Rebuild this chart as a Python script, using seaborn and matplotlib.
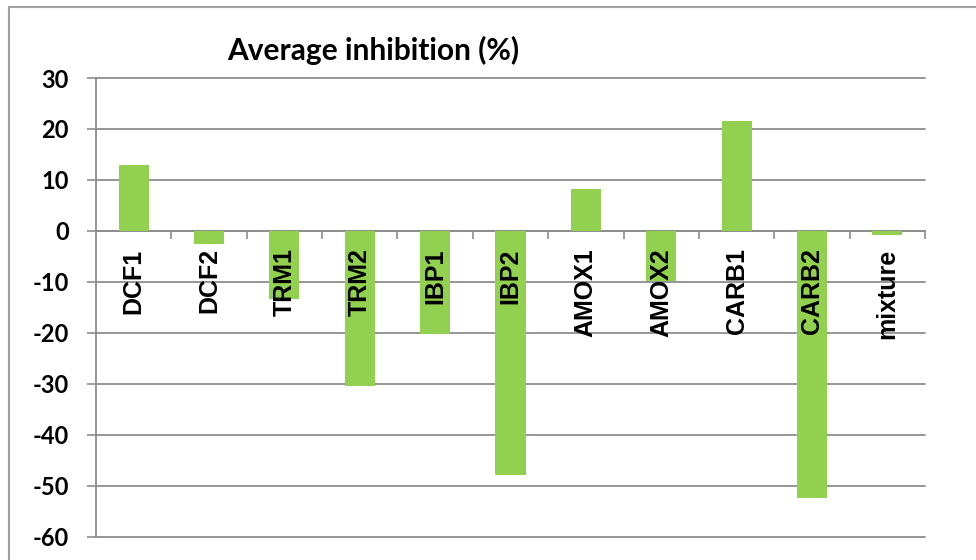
import matplotlib
matplotlib.use("Agg")
import matplotlib.pyplot as plt
import seaborn as sns
import pandas as pd
from matplotlib.lines import Line2D

# Average inhibition per sample (%)
categories = ["DCF1", "DCF2", "TRM1", "TRM2", "IBP1", "IBP2",
              "AMOX1", "AMOX2", "CARB1", "CARB2", "mixture"]
inhibition = [13.0, -2.5, -13.4, -30.5, -20.3, -47.8,
              8.3, -9.9, 21.5, -52.4, -0.9]
y_ticks = [-60, -50, -40, -30, -20, -10, 0, 10, 20, 30]
title = "Average inhibition (%)"

sns.set_theme(style="white")
plt.rcParams["axes.unicode_minus"] = False

W, H = 976, 560
fig = plt.figure(figsize=(W / 100, H / 100), dpi=100)
fig.patch.set_facecolor("white")

left, right, top, bottom = 96, 925, 78, 536.7
ax = fig.add_axes([left / W, (H - bottom) / H, (right - left) / W, (bottom - top) / H])

df = pd.DataFrame({"sample": categories, "inhibition": inhibition})
sns.barplot(data=df, x="sample", y="inhibition", color="#92D050",
            saturation=1, width=0.4, linewidth=0, ax=ax)

grey = "#8e8e8e"
ax.set_xlim(-0.5, len(categories) - 0.5)
ax.set_ylim(-60, 30)
ax.set_yticks(y_ticks)
ax.yaxis.grid(True, color=grey, linewidth=1.3)
for gl in ax.get_ygridlines():
    gl.set_clip_on(False)
ax.set_xlabel("")
ax.set_ylabel("")

# Category axis crosses at zero
for s in ["top", "right"]:
    ax.spines[s].set_visible(False)
ax.spines["bottom"].set_position(("data", 0))
ax.spines["bottom"].set_color(grey)
ax.spines["bottom"].set_linewidth(1.3)
ax.spines["left"].set_color(grey)
ax.spines["left"].set_linewidth(1.3)

ax.yaxis.set_zorder(0.5)
ax.xaxis.set_zorder(3)
ax.spines["bottom"].set_zorder(0.6)

ax.tick_params(axis="y", which="major", left=True, length=6.5, width=1.2,
               color=grey, pad=13)
for lab in ax.get_yticklabels():
    lab.set_fontfamily("Lato")
    lab.set_fontweight("bold")
    lab.set_fontsize(17)
    lab.set_color("black")

ax.set_xticks(range(len(categories)))
ax.set_xticklabels(categories, rotation=90, fontfamily="Liberation Sans",
                   fontweight="bold", fontsize=18, color="black")
ax.set_xticks([i + 0.5 for i in range(len(categories))], minor=True)
ax.tick_params(axis="x", which="major", bottom=True, length=0, pad=12.5)
ax.tick_params(axis="x", which="minor", bottom=True, length=5.8, width=1.2,
               color=grey, direction="out")

fig.text(373 / W, 1 - 50 / H, title, ha="center", va="center",
         fontfamily="Lato", fontweight="bold", fontsize=21.5, color="black")

# Chart frame
frame = "#a0a0a0"
fig.add_artist(Line2D([9 / W, 9 / W], [0, 1 - 7 / H], transform=fig.transFigure,
                      color=frame, linewidth=1.5))
fig.add_artist(Line2D([9 / W, 1], [1 - 7 / H, 1 - 7 / H], transform=fig.transFigure,
                      color=frame, linewidth=1.5))

fig.savefig("out.png", dpi=100, facecolor="white")
